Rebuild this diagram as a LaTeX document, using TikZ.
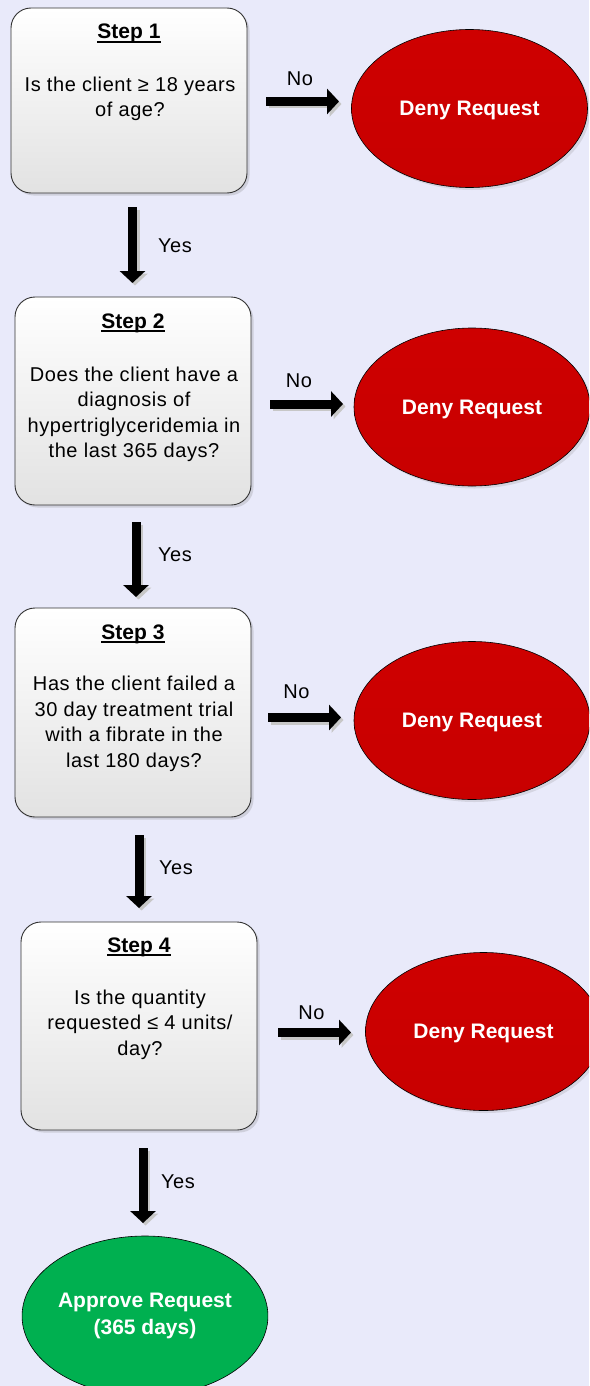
\documentclass[tikz,border=0pt]{standalone}
\usepackage{fontspec}
\setmainfont{Liberation Sans}
\newfontfamily\spacedfont{Liberation Sans}[LetterSpace=3.0]
\usetikzlibrary{arrows.meta,shapes.geometric,shadows}
\definecolor{bgcol}{RGB}{233,234,250}
\definecolor{denyred}{RGB}{200,0,0}
\definecolor{denyredtop}{RGB}{206,0,0}
\definecolor{okgreen}{RGB}{0,176,80}
\definecolor{boxline}{RGB}{50,50,50}
\definecolor{boxbottom}{RGB}{226,226,226}
\newcommand{\stepul}[1]{\setbox0\hbox{#1}\rlap{\rule[-3.6pt]{\wd0}{1.2pt}}\box0}
\newcommand{\bodyfnt}{\spacedfont\fontsize{20}{25.5}\selectfont}
\newcommand{\boldfnt}{\fontsize{21}{26.5}\selectfont\bfseries}
\tikzset{
  stepbox/.style={draw=boxline, line width=0.9pt, rounded corners=20pt, rectangle,
    top color=white, bottom color=boxbottom, inner sep=0pt,
    drop shadow={shadow xshift=2.5pt, shadow yshift=-2.5pt, opacity=0.25, fill=gray}},
  steptitle/.style={anchor=base, inner sep=0pt, font=\boldfnt},
  stepbody/.style={anchor=north, inner sep=0pt, align=center, font=\bodyfnt},
  denynode/.style={ellipse, draw=black, line width=0.6pt, top color=denyredtop, bottom color=denyred,
    minimum width=236pt, minimum height=158pt, inner sep=0pt, text=white, font=\boldfnt,
    text depth=0pt,
    drop shadow={shadow xshift=2.5pt, shadow yshift=-2.5pt, opacity=0.2, fill=gray}},
  approvenode/.style={ellipse, draw=black, line width=0.6pt, fill=okgreen,
    minimum width=240pt, minimum height=160pt, inner sep=0pt, text=white, align=center,
    font=\boldfnt},
  blockarrow/.style={line width=9pt, -{Triangle[width=25pt,length=12pt]}, black},
  arrowshadow/.style={line width=9pt, -{Triangle[width=25pt,length=12pt]}, black!22,
    transform canvas={shift={(2.5pt,-2.5pt)}}},
  lbl/.style={anchor=base, inner sep=0pt, font=\bodyfnt},
}
\begin{document}
\begin{tikzpicture}[x=1pt,y=-1pt]
\useasboundingbox (0,0) rectangle (589,1386);
\clip (0,0) rectangle (589,1386);
\fill[bgcol] (0,0) rectangle (589,1386);

% step boxes
\node[stepbox, minimum width=236pt, minimum height=185pt] (s1) at (129,100.5) {};
\node[stepbox, minimum width=236pt, minimum height=208pt] (s2) at (133,401) {};
\node[stepbox, minimum width=236pt, minimum height=209pt] (s3) at (133,712.5) {};
\node[stepbox, minimum width=236pt, minimum height=208pt] (s4) at (139,1026) {};

% titles
\node[steptitle] (t1) at (129,39) {\stepul{Step 1}};
\node[steptitle] (t2) at (133,328) {\stepul{Step 2}};
\node[steptitle] (t3) at (133,639) {\stepul{Step 3}};
\node[steptitle] (t4) at (139,952) {\stepul{Step 4}};

% bodies
\node[stepbody] (b1) at (130,76.5) {Is the client ≥ 18 years\\of age?};
\node[stepbody] (b2) at (134,366.5) {Does the client have a\\diagnosis of\\hypertriglyceridemia in\\the last 365 days?};
\node[stepbody] (b3) at (134,676) {Has the client failed a\\30 day treatment trial\\with a fibrate in the\\last 180 days?};
\node[stepbody] (b4) at (140,989.5) {Is the quantity\\requested ≤ 4 units/\\day?};

% deny ellipses
\node[denynode] (d1) at (469.5,108.5) {Deny Request};
\node[denynode] (d2) at (472,407) {Deny Request};
\node[denynode] (d3) at (472,720.5) {Deny Request};
\node[denynode] (d4) at (483.5,1031.5) {Deny Request};

% approve
\node[approvenode] (ap) at (145,1316) {Approve Request\\(365 days)};

% arrow end coordinates
\coordinate (n1a) at (266,101.5); \coordinate (n1b) at (339,101.5);
\coordinate (n2a) at (270,404);   \coordinate (n2b) at (343,404);
\coordinate (n3a) at (268,717.5); \coordinate (n3b) at (341,717.5);
\coordinate (n4a) at (278,1032.5); \coordinate (n4b) at (351,1032.5);
\coordinate (y1a) at (132.5,207); \coordinate (y1b) at (132.5,283);
\coordinate (y2a) at (136,522);   \coordinate (y2b) at (136,597);
\coordinate (y3a) at (139,835);   \coordinate (y3b) at (139,908);
\coordinate (y4a) at (143,1148);  \coordinate (y4b) at (143,1223);

\foreach \p in {n1,n2,n3,n4,y1,y2,y3,y4}{
  \draw[arrowshadow] (\p a) -- (\p b);
}
\foreach \p in {n1,n2,n3,n4,y1,y2,y3,y4}{
  \draw[blockarrow] (\p a) -- (\p b);
}

% labels
\node[lbl] (no1) at (300,86) {No};
\node[lbl] (no2) at (299,387) {No};
\node[lbl] (no3) at (296.5,698) {No};
\node[lbl] (no4) at (311.5,1019) {No};
\node[lbl] (ye1) at (175,252) {Yes};
\node[lbl] (ye2) at (175,561) {Yes};
\node[lbl] (ye3) at (176,874) {Yes};
\node[lbl] (ye4) at (178,1188) {Yes};
\end{tikzpicture}
\end{document}
